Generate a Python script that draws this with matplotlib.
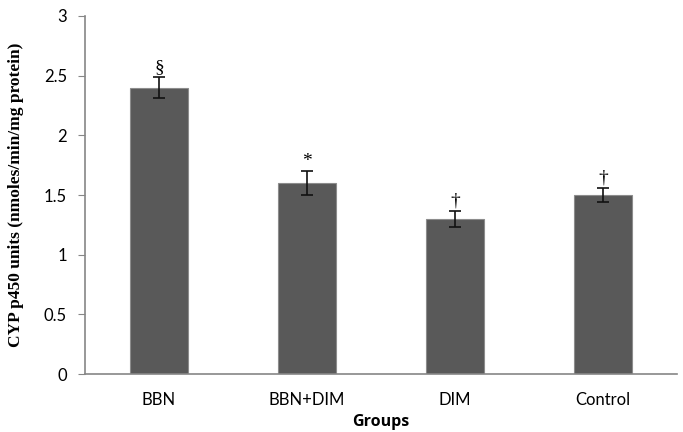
import numpy as np
import matplotlib
matplotlib.use("Agg")
from matplotlib import pyplot as plt

# data
groups = ["BBN", "BBN+DIM", "DIM", "Control"]
cyp_mean = [2.4, 1.6, 1.3, 1.5]
cyp_err = [0.09, 0.10, 0.07, 0.06]
marks = ["\u00a7", "*", "\u2020", "\u2020"]

fig = plt.figure(figsize=(6.83, 4.32), dpi=100)
ax = fig.add_axes([0.1245, 0.134, 0.867, 0.829])

x = np.arange(len(groups))
ax.bar(x, cyp_mean, width=0.39, color="#595959", edgecolor="#8c8c8c", linewidth=0.8, zorder=2)
ax.errorbar(x, cyp_mean, yerr=cyp_err, fmt="none", ecolor="#111111", elinewidth=1.2,
            capsize=4, capthick=1.2, zorder=3)

for xi, m, e, s in zip(x, cyp_mean, cyp_err, marks):
    ax.text(xi, m + e + 0.01, s, ha="center", va="bottom", fontsize=14,
            family="Liberation Serif")

ax.set_xlim(-0.5, len(groups) - 0.5)
ax.set_ylim(0, 3)
ax.set_yticks(np.arange(0, 3.01, 0.5))
ax.set_yticklabels(["0", "0.5", "1", "1.5", "2", "2.5", "3"])
ax.set_xticks(x)
ax.set_xticklabels(groups)

for side in ["top", "right"]:
    ax.spines[side].set_visible(False)
for side in ["left", "bottom"]:
    ax.spines[side].set_color("#868686")
    ax.spines[side].set_linewidth(1.2)

ax.tick_params(axis="y", length=5, color="#868686", labelsize=12, pad=8)
ax.tick_params(axis="x", length=0, labelsize=12, pad=13)
for lab in ax.get_xticklabels() + ax.get_yticklabels():
    lab.set_family("Lato")

ax.set_xlabel("Groups", fontsize=11.5, fontweight="bold", family="Open Sans", labelpad=4)
ax.set_ylabel("CYP p450 units (nmoles/min/mg protein)", fontsize=12.5, fontweight="bold",
              family="Liberation Serif", labelpad=14)

fig.savefig("out.png", dpi=100)
